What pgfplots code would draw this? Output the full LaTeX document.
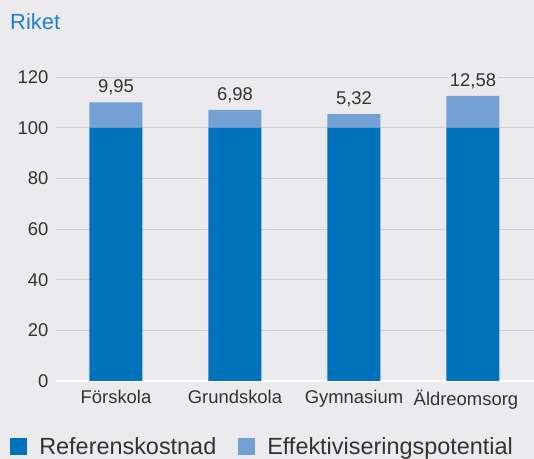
\documentclass[border=0pt]{standalone}
\usepackage{fontspec}
\setmainfont{Liberation Sans}
\usepackage{pgfplots}
\pgfplotsset{compat=1.18}
\definecolor{bg}{HTML}{EBEBED}
\definecolor{refblue}{HTML}{0072BC}
\definecolor{effblue}{HTML}{74A0D5}
\definecolor{titleblue}{HTML}{1F80C8}
\definecolor{txt}{HTML}{333333}
\definecolor{gridc}{HTML}{CFCFD1}

\begin{document}
\begin{tikzpicture}[x=1bp,y=1bp]
\fill[bg] (0,0) rectangle (534,459);
\node[anchor=west, text=titleblue, font=\fontsize{22}{26}\selectfont, inner sep=0] at (10,437) {Riket};
\begin{axis}[
  at={(56bp,78bp)}, anchor=south west,
  scale only axis,
  width=478bp, height=304bp,
  ybar stacked,
  bar width=0.445,
  xmin=-0.504, xmax=3.513,
  ymin=0, ymax=120,
  ytick={0,20,...,120},
  xtick=data,
  xticklabels={Förskola,Grundskola,Gymnasium,Äldreomsorg\hspace*{14bp}},
  axis line style={draw=none},
  major tick length=0pt,
  ymajorgrids=true,
  grid style={gridc, line width=0.9bp},
  extra y ticks={0},
  extra y tick style={grid style={white, line width=1.5bp}, yticklabels={}},
  tick label style={text=txt, font=\fontsize{18.5}{22}\selectfont},
  /pgf/number format/assume math mode=true,
  yticklabel style={xshift=-4bp},
  xticklabel style={yshift=-6bp},
  legend columns=2,
  legend style={at={(-0.096,-0.217)}, anchor=west, draw=none, fill=none,
    font=\fontsize{23.5}{27}\selectfont, text=txt, inner sep=0pt,
    /tikz/every odd column/.append style={column sep=10bp},
    /tikz/every even column/.append style={column sep=20bp}},
  legend image code/.code={\fill[#1] (0bp,-8.5bp) rectangle (17bp,8.5bp);},
]
\addplot[fill=refblue, draw=none] coordinates {(0,100) (1,100) (2,100) (3,100)};
\addplot[fill=effblue, draw=none,
  nodes near coords, point meta=explicit symbolic,
  visualization depends on={rawy \as \rawy},
  every node near coord/.style={text=txt, fill=bg, inner sep=1.5bp,
    anchor=center, yshift={15bp+\rawy*1.2667bp},
    font=\fontsize{18.5}{22}\selectfont}]
  coordinates {(0,9.95)[9,95] (1,6.98)[6,98] (2,5.32)[5,32] (3,12.58)[12,58]};
\legend{Referenskostnad,Effektiviseringspotential}
\end{axis}
\pgfresetboundingbox
\path (0,0) rectangle (534,459);
\end{tikzpicture}
\end{document}
